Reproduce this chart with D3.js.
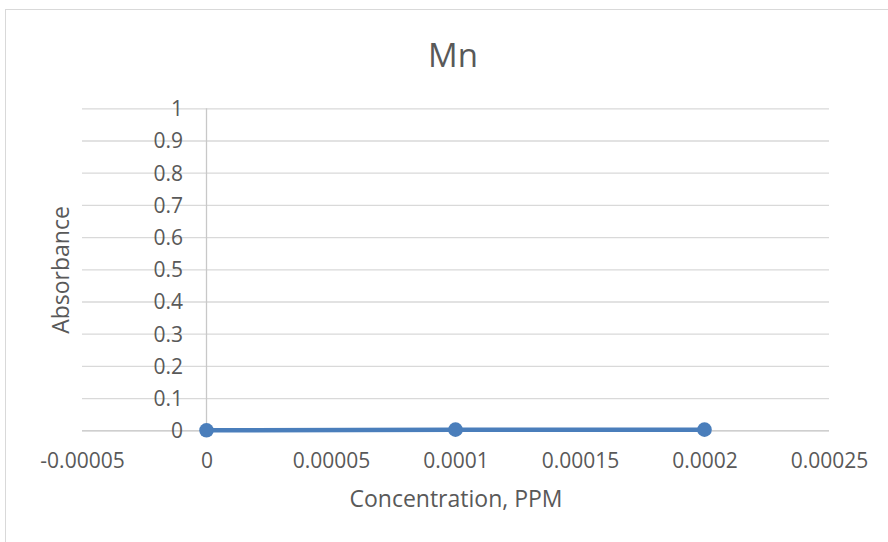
<!DOCTYPE html>
<html>
<head>
<meta charset="utf-8">
<script src="https://cdn.jsdelivr.net/npm/d3@7/dist/d3.min.js"></script>
<style>
  html, body { margin: 0; padding: 0; background: #fff; }
  svg { display: block; font-family: "Open Sans", sans-serif; }
</style>
</head>
<body>
<svg id="chart" width="888" height="542"></svg>
<script>
// Mn calibration series: concentration (PPM) vs absorbance
const concentration = [0, 0.0001, 0.0002];
const absorbance = [0, 0.002, 0.002];

const xTicks = [-0.00005, 0, 0.00005, 0.0001, 0.00015, 0.0002, 0.00025];
const xTickLabels = ["-0.00005", "0", "0.00005", "0.0001", "0.00015", "0.0002", "0.00025"];
const yTicks = [0, 0.1, 0.2, 0.3, 0.4, 0.5, 0.6, 0.7, 0.8, 0.9, 1];
const yTickLabels = ["0", "0.1", "0.2", "0.3", "0.4", "0.5", "0.6", "0.7", "0.8", "0.9", "1"];

const titleText = "Mn";
const xTitle = "Concentration, PPM";
const yTitle = "Absorbance";

const svg = d3.select("#chart");
const textColor = "#595959";
const seriesColor = "#4a7ebb";

// chart frame (extends past the visible area on the right and bottom)
svg.append("rect")
  .attr("x", 5.5).attr("y", 9.5)
  .attr("width", 960).attr("height", 640)
  .attr("fill", "#fff").attr("stroke", "#d9d9d9").attr("stroke-width", 1);

const plot = { left: 82, right: 829, top: 108.3, bottom: 430.3 };

const x = d3.scaleLinear().domain([-0.00005, 0.00025]).range([plot.left, plot.right]);
const y = d3.scaleLinear().domain([0, 1]).range([plot.bottom, plot.top]);

// horizontal gridlines + y tick labels
const yAxis = d3.axisLeft(y)
  .tickValues(yTicks)
  .tickSize(-(plot.right - plot.left))
  .tickFormat((d, i) => yTickLabels[i]);

const gy = svg.append("g")
  .attr("transform", `translate(${plot.left},0)`)
  .call(yAxis);
gy.select(".domain").remove();
gy.selectAll(".tick line")
  .attr("stroke", d => d === 0 ? "#bfbfbf" : "#d9d9d9")
  .attr("stroke-width", 1.3);
gy.selectAll(".tick text")
  .attr("x", 183 - plot.left)
  .attr("dy", "0.35em")
  .attr("text-anchor", "end")
  .attr("fill", textColor)
  .style("font-size", "21px")
  .style("font-family", "'Open Sans', sans-serif");

// vertical value axis crossing at x = 0
svg.append("line")
  .attr("x1", x(0)).attr("x2", x(0))
  .attr("y1", y(1)).attr("y2", y(0))
  .attr("stroke", "#c8c8c8").attr("stroke-width", 1.3);

// x tick labels
const xAxis = d3.axisBottom(x)
  .tickValues(xTicks)
  .tickSize(0)
  .tickFormat((d, i) => xTickLabels[i]);

const gx = svg.append("g")
  .attr("transform", `translate(0,${plot.bottom})`)
  .call(xAxis);
gx.select(".domain").remove();
gx.selectAll(".tick text")
  .attr("y", 468 - plot.bottom)
  .attr("dy", 0)
  .attr("fill", textColor)
  .style("font-size", "21px")
  .style("font-family", "'Open Sans', sans-serif");

// series line and markers
const pts = concentration.map((c, i) => ({ c, a: absorbance[i] }));
const line = d3.line().x(d => x(d.c)).y(d => y(d.a));

svg.append("path")
  .datum(pts)
  .attr("d", line)
  .attr("fill", "none")
  .attr("stroke", seriesColor)
  .attr("stroke-width", 4.5)
  .attr("stroke-linejoin", "round");

svg.selectAll("circle.pt")
  .data(pts)
  .join("circle")
  .attr("class", "pt")
  .attr("cx", d => x(d.c))
  .attr("cy", d => y(d.a))
  .attr("r", 7.3)
  .attr("fill", seriesColor);

// titles
svg.append("text")
  .attr("x", 453).attr("y", 67)
  .attr("text-anchor", "middle")
  .attr("fill", textColor)
  .style("font-size", "33px")
  .text(titleText);

svg.append("text")
  .attr("x", 456).attr("y", 507)
  .attr("text-anchor", "middle")
  .attr("fill", textColor)
  .style("font-size", "23px")
  .text(xTitle);

svg.append("text")
  .attr("transform", "translate(69,270) rotate(-90)")
  .attr("text-anchor", "middle")
  .attr("fill", textColor)
  .style("font-size", "23px")
  .text(yTitle);
</script>
</body>
</html>
